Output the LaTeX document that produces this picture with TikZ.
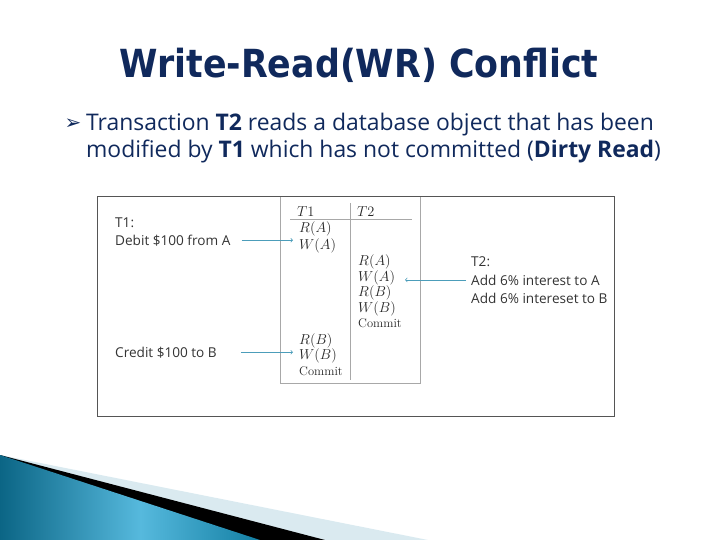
\documentclass[tikz,border=0pt]{standalone}
\usepackage{amsmath,amssymb}
\usepackage{xcolor}
\usepackage{fontspec}
\setmainfont{Open Sans}
\newfontfamily\titlefont{DejaVu Sans Condensed}
\newfontfamily\dingfont{DejaVu Sans}
\newfontfamily\lmfont{Latin Modern Roman}
\usepackage{tikz}
\usetikzlibrary{positioning}

\definecolor{navy}{HTML}{10295C}
\definecolor{labgray}{HTML}{333333}
\definecolor{arrblue}{HTML}{4C9DBA}
\definecolor{framegray}{HTML}{555555}
\definecolor{tabgray}{HTML}{A8A8A8}
\definecolor{wdark}{HTML}{0B6585}
\definecolor{wlight}{HTML}{56B9DD}
\definecolor{wmid}{HTML}{137FA3}
\definecolor{wpale}{HTML}{DAEAF0}
\pgfdeclarehorizontalshading{bluewedge}{100bp}{color(0bp)=(wdark); color(25bp)=(wdark); color(52bp)=(wlight); color(75bp)=(wmid); color(100bp)=(wmid)}

\begin{document}
\begin{tikzpicture}[x=1pt,y=-1pt,
    txt/.style={inner sep=0pt, anchor=base west},
    lab/.style={txt, text=labgray, font=\fontsize{13.6}{16}\selectfont},
    ent/.style={txt, text=black!85, font=\fontsize{14}{16}\selectfont},
    cmt/.style={txt, text=black!85, font=\lmfont\fontsize{12.5}{15}\selectfont},
    arr/.style={->, draw=arrblue, line width=0.7pt},
    tabline/.style={draw=tabgray, line width=1pt}]
    \useasboundingbox (0,0) rectangle (720,540);

    % bottom corner
    \fill[wpale] (0,455) -- (428,540) -- (0,540) -- cycle;
    \fill[black] (0,455) -- (325,540) -- (0,540) -- cycle;
    \shade[shading=bluewedge] (0,455) -- (260,540) -- (0,540) -- cycle;

    \node[inner sep=0pt, anchor=base, text=navy, font=\titlefont\bfseries\fontsize{38.7}{44}\selectfont] (title) at (359,78) {Write-Read(WR) Conflict};

    \node[inner sep=0pt, text=navy, font=\dingfont\fontsize{20}{20}\selectfont] (bullet) at (73,124) {➢};
    \node[txt, text=navy, font=\fontsize{22.9}{27}\selectfont] (line1) at (86,131) {Transaction \textbf{T2} reads a database object that has been};
    \node[txt, text=navy, font=\fontsize{22.9}{27}\selectfont] (line2) at (86,158) {modified by \textbf{T1} which has not committed (\textbf{Dirty Read})};

    \draw[draw=framegray, line width=1pt] (97,197) rectangle (614,416);
    \draw[tabline] (280,197) -- (280,383) -- (420,383) -- (420,197);
    \draw[tabline] (290,220) -- (412,220);
    \draw[tabline] (350,203) -- (350,380);

    \node[ent] (h1) at (297,216) {$T1$};
    \node[ent] (h2) at (357,216) {$T2$};
    \node[ent] (ra1) at (299,233) {$R(A)$};
    \node[ent] (wa1) at (299,249) {$W(A)$};
    \node[ent] (ra2) at (358,265) {$R(A)$};
    \node[ent] (wa2) at (358,281) {$W(A)$};
    \node[ent] (rb2) at (358,296) {$R(B)$};
    \node[ent] (wb2) at (358,312) {$W(B)$};
    \node[cmt] (commit2) at (358,327) {Commit};
    \node[ent] (rb1) at (299,344) {$R(B)$};
    \node[ent] (wb1) at (299,359) {$W(B)$};
    \node[cmt] (commit1) at (299,375) {Commit};

    \node[lab] (t1) at (115,227) {T1:};
    \node[lab] (debit) at (115,245) {Debit \$100 from A};
    \node[lab] (credit) at (115,357) {Credit \$100 to B};
    \node[lab] (t2) at (471,266) {T2:};
    \node[lab] (add1) at (471,285) {Add 6\% interest to A};
    \node[lab] (add2) at (471,303) {Add 6\% intereset to B};

    \coordinate (t2tip) at (405,283);
    \draw[arr] ([xshift=11pt]debit.east) -- ([xshift=-6pt]debit.east -| wa1.west);
    \draw[arr] ([xshift=24pt]credit.east) -- ([xshift=-6pt]credit.east -| wb1.west);
    \draw[arr] ([xshift=-5pt]add1.west) -- (add1.west -| t2tip);
  \end{tikzpicture}
\end{document}
